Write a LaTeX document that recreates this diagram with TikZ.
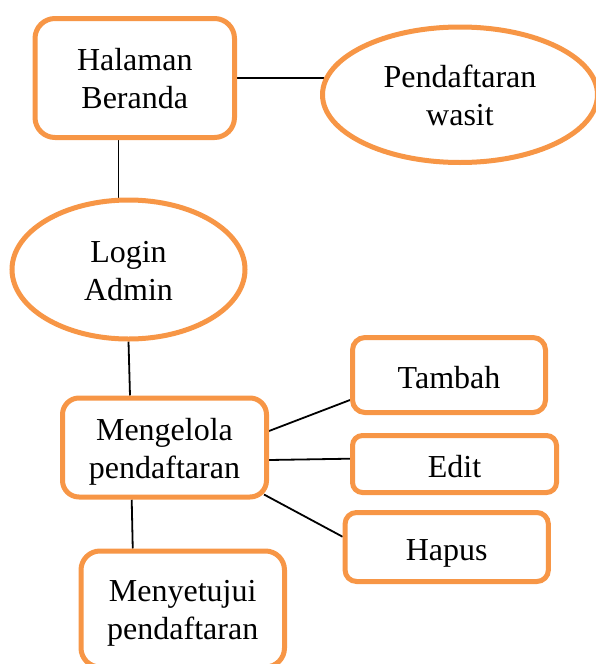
\documentclass[tikz,border=0pt]{standalone}
\usepackage{fontspec}
\setmainfont{Liberation Serif}
\usetikzlibrary{shapes.geometric,backgrounds}
\definecolor{boxorange}{HTML}{F79646}
\tikzset{
  shapebase/.style={draw=boxorange, line width=5pt, fill=white, inner sep=2pt,
    font=\fontsize{32}{37.6}\selectfont, align=center},
  onebox/.style={shapebase, rectangle, text height=26pt, text depth=0pt},
  twobox/.style={shapebase, rectangle, text height=61pt, text depth=0pt},
  twoell/.style={shapebase, ellipse, text height=61pt, text depth=0pt},
  link/.style={draw=black, line width=1.8pt}
}
\begin{document}
\begin{tikzpicture}[x=1pt,y=-1pt]
\useasboundingbox (0,0) rectangle (595,664);
\node[twobox, minimum width=199.5pt, minimum height=119pt, rounded corners=20pt] (hal) at (134.75,78) {Halaman\\Beranda};
\node[twoell, minimum width=275pt, minimum height=135.5pt] (wasit) at (460,94.75) {Pendaftaran\\wasit};
\node[twoell, minimum width=233pt, minimum height=139pt] (login) at (128.5,269.5) {Login\\Admin};
\node[twobox, minimum width=204pt, minimum height=99pt, rounded corners=16.5pt] (meng) at (164.5,447.5) {Mengelola\\pendaftaran};
\node[onebox, minimum width=193pt, minimum height=75pt, rounded corners=12.5pt] (tambah) at (449,375) {Tambah};
\node[onebox, minimum width=204pt, minimum height=57pt, rounded corners=10pt] (edit) at (454.5,464) {Edit};
\node[onebox, minimum width=203.3pt, minimum height=69pt, rounded corners=11.5pt] (hapus) at (446.7,547) {Hapus};
\node[twobox, minimum width=203.5pt, minimum height=116pt, rounded corners=19pt] (meny) at (182.75,609) {Menyetujui\\pendaftaran};
\begin{scope}[on background layer]
\draw[link] (hal.east) -- (wasit.173);
\draw[link] (hal.south -| login.98.6) -- (login.98.6);
\draw[link] (login.south) -- ([xshift=-34.5pt]meng.north);
\draw[link] ([xshift=-32.8pt]meng.south) -- ([xshift=-50pt]meny.north);
\draw[link] ([yshift=16.5pt]meng.east) -- ([yshift=-25pt]tambah.west);
\draw[link] ([yshift=-12.5pt]meng.east) -- ([yshift=5.3pt]edit.west);
\draw[link] ([xshift=-5pt,yshift=5pt]meng.south east) -- ([yshift=10.3pt]hapus.west);
\end{scope}
\end{tikzpicture}
\end{document}
